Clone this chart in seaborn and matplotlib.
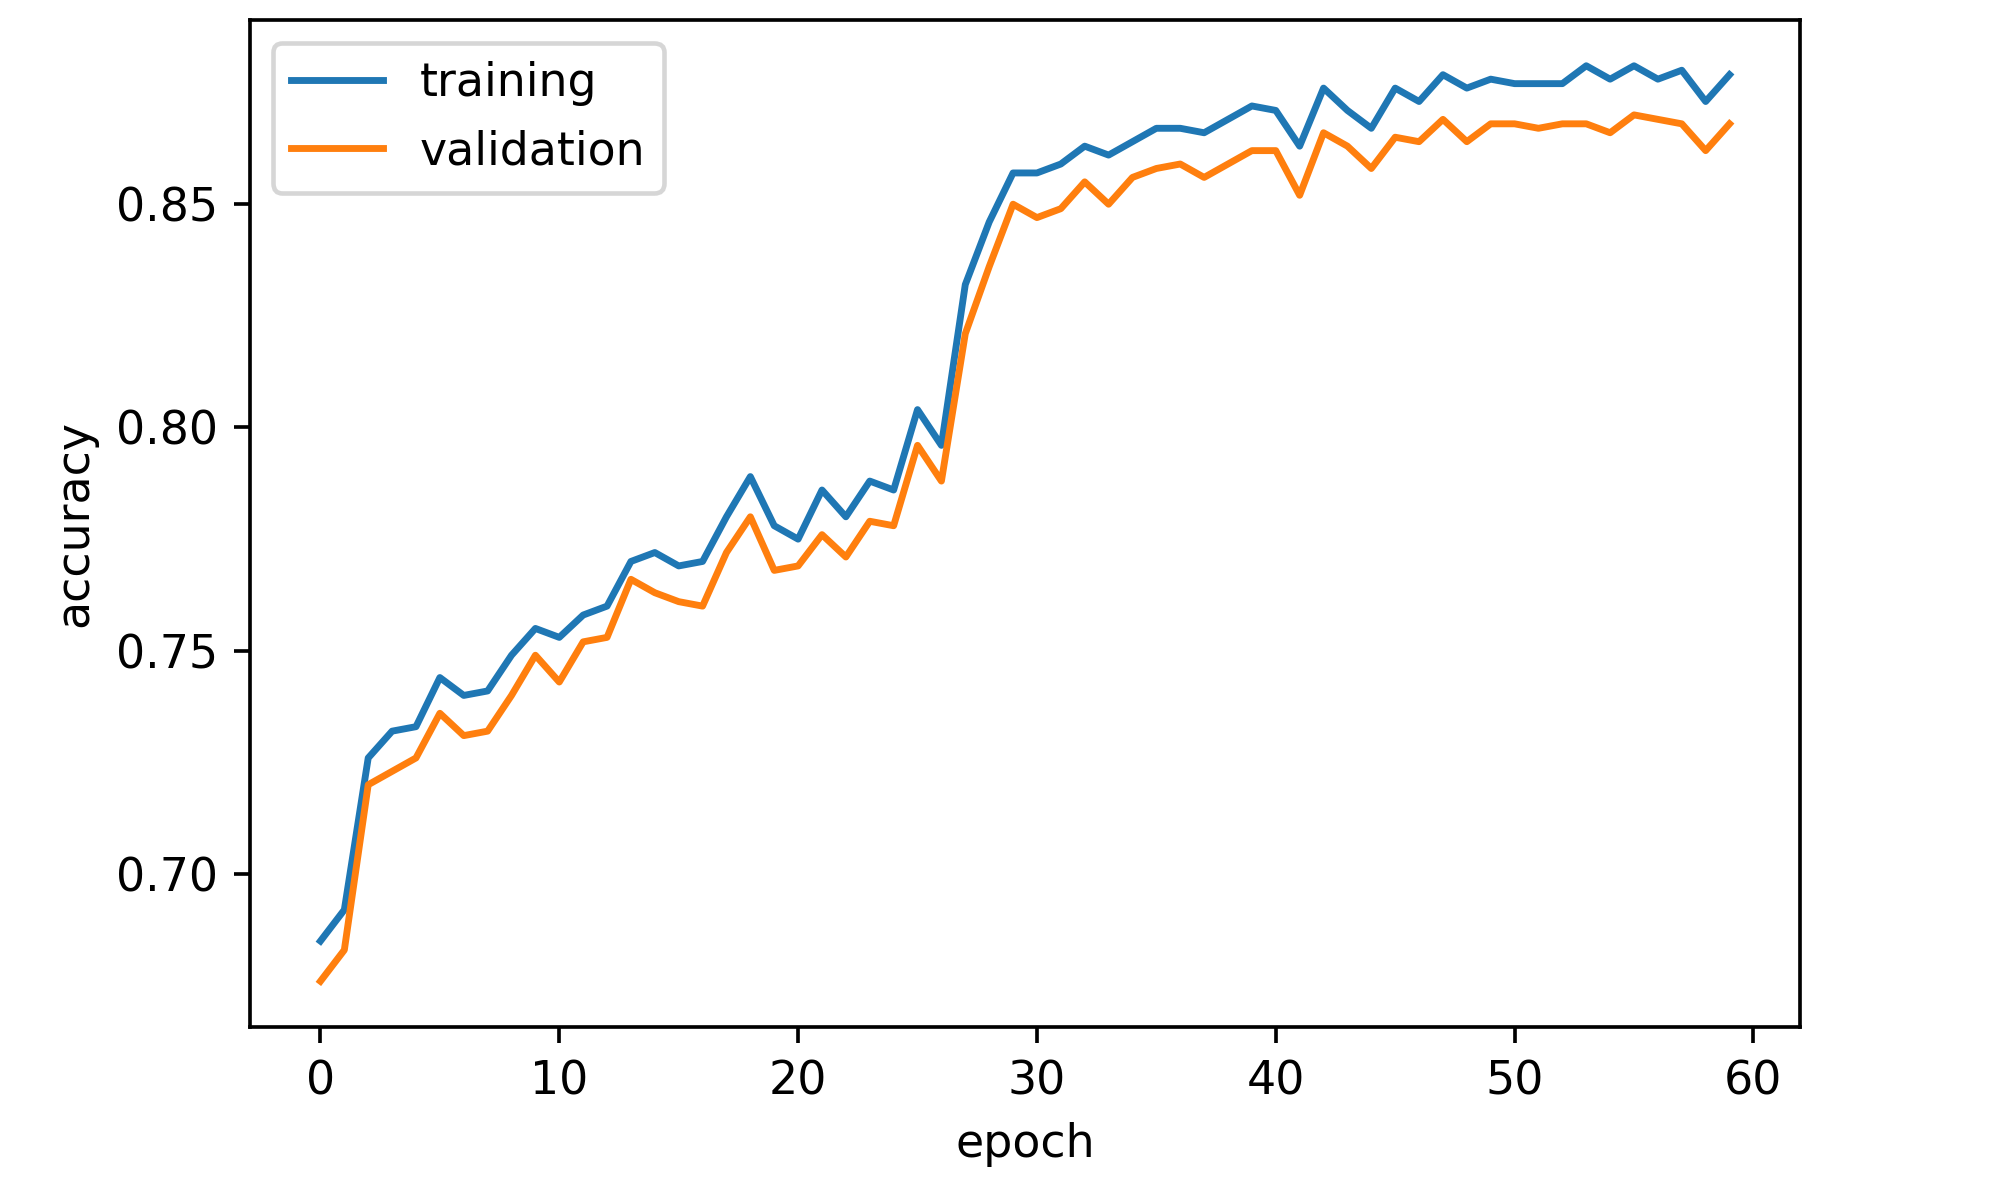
import numpy as np
import pandas as pd
import matplotlib
matplotlib.use("Agg")
import matplotlib.pyplot as plt
import seaborn as sns

epochs = list(range(60))
training = [0.685, 0.692, 0.726, 0.732, 0.733, 0.744, 0.740, 0.741, 0.749, 0.755,
            0.753, 0.758, 0.760, 0.770, 0.772, 0.769, 0.770, 0.780, 0.789, 0.778,
            0.775, 0.786, 0.780, 0.788, 0.786, 0.804, 0.796, 0.832, 0.846, 0.857,
            0.857, 0.859, 0.863, 0.861, 0.864, 0.867, 0.867, 0.866, 0.869, 0.872,
            0.871, 0.863, 0.876, 0.871, 0.867, 0.876, 0.873, 0.879, 0.876, 0.878,
            0.877, 0.877, 0.877, 0.881, 0.878, 0.881, 0.878, 0.880, 0.873, 0.879]
validation = [0.676, 0.683, 0.720, 0.723, 0.726, 0.736, 0.731, 0.732, 0.740, 0.749,
              0.743, 0.752, 0.753, 0.766, 0.763, 0.761, 0.760, 0.772, 0.780, 0.768,
              0.769, 0.776, 0.771, 0.779, 0.778, 0.796, 0.788, 0.821, 0.836, 0.850,
              0.847, 0.849, 0.855, 0.850, 0.856, 0.858, 0.859, 0.856, 0.859, 0.862,
              0.862, 0.852, 0.866, 0.863, 0.858, 0.865, 0.864, 0.869, 0.864, 0.868,
              0.868, 0.867, 0.868, 0.868, 0.866, 0.870, 0.869, 0.868, 0.862, 0.868]
series_names = ["training", "validation"]

df = pd.DataFrame({
    "epoch": epochs + epochs,
    "accuracy": training + validation,
    "series": [series_names[0]] * len(epochs) + [series_names[1]] * len(epochs),
})

dpi = 330
fig = plt.figure(figsize=(2000 / dpi, 1195 / dpi), dpi=dpi)
ax = fig.add_axes([250 / 2000, 1 - 1027 / 1195, 1550 / 2000, 1007 / 1195])
sns.lineplot(data=df, x="epoch", y="accuracy", hue="series",
             palette=["#1f77b4", "#ff7f0e"], ax=ax, linewidth=1.5)
ax.set_xlabel("epoch")
ax.set_ylabel("accuracy")
ax.set_yticks([0.70, 0.75, 0.80, 0.85])
ax.legend(loc="upper left", title=None)
fig.savefig("out.png", dpi=dpi)
